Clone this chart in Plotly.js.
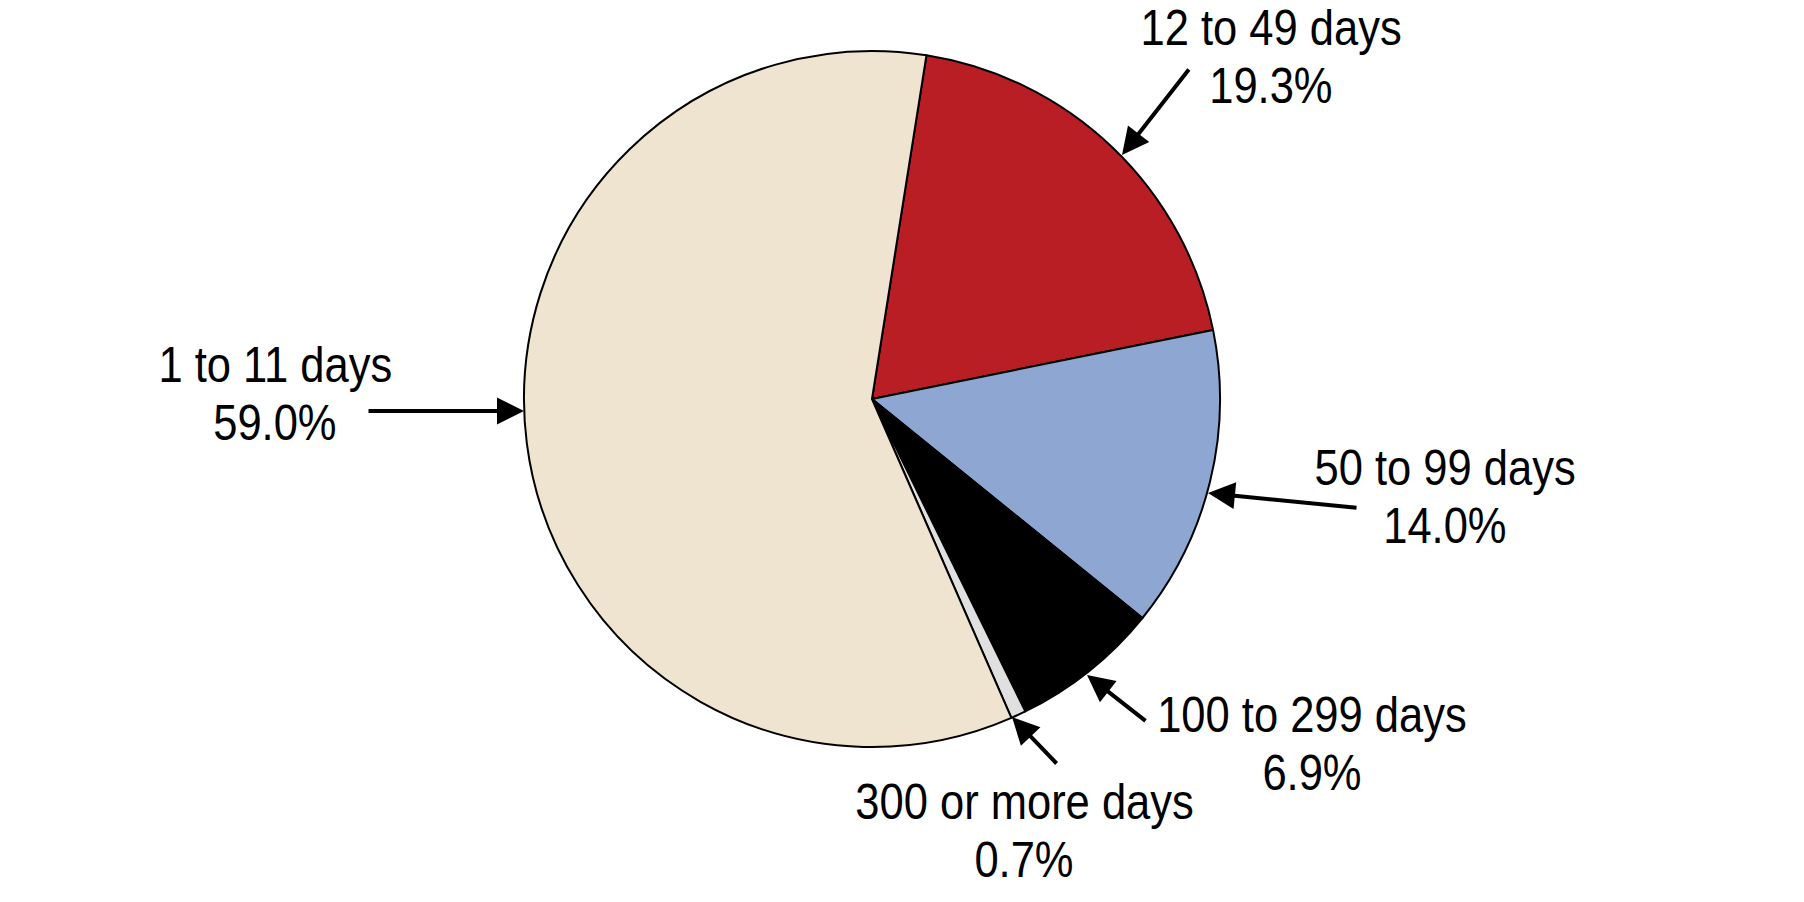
<!DOCTYPE html>
<html>
<head>
<meta charset="utf-8">
<script src="https://cdn.plot.ly/plotly-3.0.1.min.js"></script>
<style>html,body{margin:0;padding:0;background:#fff;}#chart{width:1804px;height:902px;}</style>
</head>
<body>
<div id="chart"></div>
<script>
const categories = ["12 to 49 days", "50 to 99 days", "100 to 299 days", "300 or more days", "1 to 11 days"];
const shares = [19.3, 14.0, 6.9, 0.7, 59.0];
const sliceColors = ["#BA1E25", "#8EA7D2", "#000000", "#E0E0E0", "#EFE4CF"];

const W = 1804, H = 902;
const px = x => x / W;
const py = y => 1 - y / H;

// label block centers and arrow (tail -> tip) in pixels
const labelPos = [
  {tx: 1271, ty: 57, tail: [1190, 68], tip: [1122, 155]},
  {tx: 1445, ty: 497, tail: [1358, 508], tip: [1208, 493]},
  {tx: 1312, ty: 744, tail: [1147, 722], tip: [1087, 675]},
  {tx: 1024, ty: 831, tail: [1058, 765], tip: [1012, 717]},
  {tx: 275, ty: 394, tail: [367, 411], tip: [524, 411]}
];
const LINE_GAP = 58;
const SX = 0.87;

const font = {family: "'Liberation Sans', Arial, sans-serif", size: 50, color: "#000"};

const annotations = [];
categories.forEach((c, i) => {
  const p = labelPos[i];
  const lines = [c, shares[i].toFixed(1) + "%"];
  lines.forEach((t, k) => {
    annotations.push({
      xref: "paper", yref: "paper", x: px(p.tx), y: py(p.ty + (k - 0.5) * LINE_GAP),
      text: t, showarrow: false, font: font, xanchor: "center", yanchor: "middle", align: "center"
    });
  });
  annotations.push({
    xref: "paper", yref: "paper", x: px(p.tip[0]), y: py(p.tip[1]),
    ax: p.tail[0] - p.tip[0], ay: p.tail[1] - p.tip[1],
    text: "", showarrow: true, arrowhead: 2, arrowsize: 1.35, arrowwidth: 4, arrowcolor: "#000", standoff: 0
  });
});

const cx = 872, cy = 399, r = 348;
const data = [{
  type: "pie",
  labels: categories,
  values: shares,
  sort: false,
  direction: "clockwise",
  rotation: 9,
  marker: {colors: sliceColors, line: {color: "#000", width: 2}},
  textinfo: "none",
  hoverinfo: "label+percent",
  domain: {x: [px(cx - r), px(cx + r)], y: [py(cy + r), py(cy - r)]}
}];

const layout = {
  width: W, height: H,
  margin: {l: 0, r: 0, t: 0, b: 0},
  showlegend: false,
  paper_bgcolor: "#fff",
  annotations: annotations
};

Plotly.newPlot("chart", data, layout, {displayModeBar: false, staticPlot: true}).then(gd => {
  // condensed lettering like the original typeface
  gd.querySelectorAll("text.annotation-text").forEach(t => {
    if (!t.textContent) return;
    const bb = t.getBBox();
    const c = bb.x + bb.width / 2;
    t.setAttribute("transform", `translate(${c},0) scale(${SX},1) translate(${-c},0)`);
  });
});
</script>
</body>
</html>
